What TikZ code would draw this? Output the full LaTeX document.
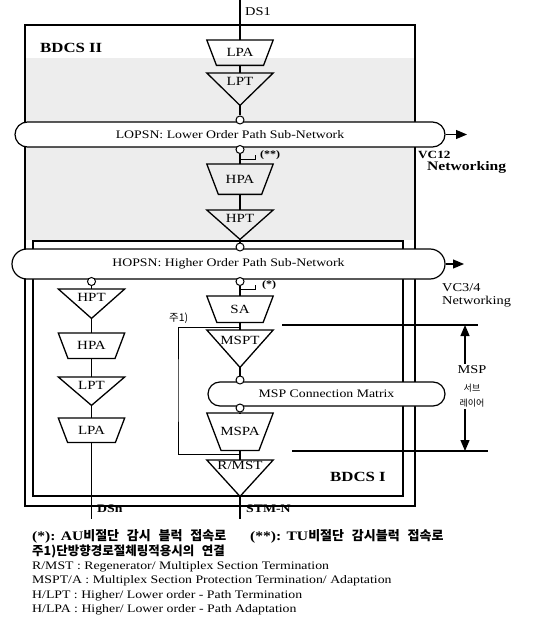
\documentclass[tikz,border=0pt]{standalone}
\usepackage{fontspec}
\setmainfont{Liberation Serif}
\newfontfamily\dgfont{Liberation Serif}[FakeStretch=1.2]
\newfontfamily\kofont{Noto Sans CJK KR}
\newcommand\fsz[1]{\fontsize{#1}{#1}\selectfont}
\newcommand\ksp{\hspace{0.6em}}
\usetikzlibrary{arrows.meta,calc}

\tikzset{
  blkline/.style={line width=1.3pt, line join=miter},
  blk/.style={inner sep=0pt, minimum width=66pt, anchor=north, font=\dgfont\fsz{12.5}},
  adapt/.style={blk, minimum height=#1,
    append after command={\pgfextra{\draw[blkline]
      (\tikzlastnode.north west) -- (\tikzlastnode.north east)
      -- ($(\tikzlastnode.south east)!0.38!90:(\tikzlastnode.north east)$)
      -- ($(\tikzlastnode.south west)!0.38!-90:(\tikzlastnode.north west)$) -- cycle;}}},
  adapt/.default=26pt,
  term/.style 2 args={blk, minimum height=#1, text height=8pt, text depth=#2,
    append after command={\pgfextra{\draw[blkline]
      (\tikzlastnode.north west) -- (\tikzlastnode.north east)
      -- (\tikzlastnode.south) -- cycle;}}},
  bus/.style={draw, line width=1.2pt, fill=white, inner sep=0pt, font=\dgfont\fsz{11.5}},
  cpt/.style={circle, draw, fill=white, line width=1pt, inner sep=0pt, minimum size=8pt},
  link/.style={line width=1.2pt},
  outarr/.style={link, -{Triangle[length=11pt,width=9pt]}},
  lbl/.style={inner sep=0pt, anchor=west, font=\dgfont\bfseries\fsz{11.5}},
  leg/.style={inner sep=0pt, anchor=base west, font=\dgfont\fsz{11.5}},
}

\begin{document}
\begin{tikzpicture}[x=1pt,y=-1pt]
\useasboundingbox (0,0) rectangle (540,628);
% BDCS II and BDCS I frames
\fill[black!7] (26,58) rectangle (414,240);
\draw[line width=1.2pt] (25,25) rectangle (415,506);
\draw[line width=2.6pt] (33,241) rectangle (403,496);
\node[lbl, font=\dgfont\bfseries\fsz{14}] (bdcsB) at (40,48) {BDCS II};
\node[lbl, font=\dgfont\bfseries\fsz{14}] (bdcsA) at (330,477) {BDCS I};

% sub-networks
\node[bus, minimum width=430pt, minimum height=25pt, rounded corners=12.5pt] (lopsn) at (230,134.5) {LOPSN: Lower Order Path Sub-Network};
\node[bus, minimum width=433pt, minimum height=30pt, rounded corners=15pt] (hopsn) at (228.5,264) {HOPSN: Higher Order Path Sub-Network};
\node[bus, minimum width=237pt, minimum height=24pt, rounded corners=12pt] (mspcm) at (326.5,394) {MSP Connection Matrix};

\node[cpt] (cA) at (240,120) {};
\node[cpt] (cB) at (240,149.5) {};
\node[cpt] (cC) at (240,247) {};
\node[cpt] (cD) at (91.5,281.5) {};
\node[cpt] (cE) at (240,281.5) {};
\node[cpt] (cF) at (240,380) {};
\node[cpt] (cG) at (240,408) {};

% upper column (BDCS II)
\coordinate (ds1) at (240,0);
\node[adapt=25pt] (lpaU) at (240,40) {LPA};
\node[term={32pt}{16pt}] (lptU) at (240,73) {LPT};
\node[adapt=30pt] (hpaU) at (240,164) {HPA};
\node[term={29pt}{13pt}] (hptU) at (240,210) {HPT};

% left column
\node[term={29pt}{13pt}] (hptL) at (91.5,289) {HPT};
\node[adapt=25pt] (hpaL) at (91.5,333) {HPA};
\node[term={28pt}{12pt}] (lptL) at (91.5,377) {LPT};
\node[adapt=24pt] (lpaL) at (91.5,418) {LPA};
\coordinate (dsn) at (91.5,519);

% right column
\node[adapt=26pt] (sa) at (240,296) {SA};
\node[term={37pt}{17pt}] (mspt) at (240,330) {MSPT};
\node[adapt=37pt] (mspa) at (240,413) {MSPA};
\node[term={36pt}{26pt}] (rmst) at (240,460) {R/MST};
\coordinate (stmn) at (240,519);

\draw[link] (ds1) -- (lpaU.north);
\draw[link] (lpaU.south) -- (lptU.north);
\draw[link] (lptU.south) -- (cA);
\draw[link] (cB) -- (hpaU.north);
\draw[link] (hpaU.south) -- (hptU.north);
\draw[link] (hptU.south) -- (cC);
\draw[link] (cD) -- (hptL.north);
\draw[link] (hptL.south) -- (hpaL.north);
\draw[link] (hpaL.south) -- (lptL.north);
\draw[link] (lptL.south) -- (lpaL.north);
\draw[link] (lpaL.south) -- (dsn);
\draw[link] (cE) -- (sa.north);
\draw[link] (sa.south) -- (mspt.north);
\draw[link] (mspt.south) -- (cF);
\draw[link] (cG) -- (mspa.north);
\draw[link] (mspa.south) -- (rmst.north);
\draw[link] (rmst.south) -- (stmn);

% monitoring taps
\coordinate (tpA) at (240,159);
\draw[semithick] (tpA) -| ++(15,-4);
\node[inner sep=0pt, anchor=west, font=\dgfont\bfseries\fsz{10}] (tpAl) at (260,155) {(**)};
\coordinate (tpB) at (240,289);
\draw[semithick] (tpB) -| ++(15,-4);
\node[inner sep=0pt, anchor=west, font=\dgfont\bfseries\fsz{10}] (tpBl) at (262,285) {(*)};

% unidirectional ring loop
\coordinate (lpA) at (240,327);
\coordinate (lpB) at (240,454);
\draw[line width=0.9pt] (lpA) -| (178,390) |- (lpB);
\node[inner sep=0pt, anchor=west, font=\kofont\fsz{10.5}] (note1) at (169,318) {주1)};

% outputs
\coordinate (vcA) at (467,134.5);
\coordinate (vcB) at (464,264);
\draw[outarr] (lopsn.east) -- (vcA);
\draw[outarr] (hopsn.east) -- (vcB);
\node[lbl, font=\dgfont\bfseries\fsz{11}] (vc12) at (418,155) {VC12};
\node[lbl, font=\dgfont\bfseries\fsz{13}] (nwA) at (427,167) {Networking};
\node[lbl, font=\dgfont\fsz{12}] (vc34) at (442,288) {VC3/4};
\node[lbl, font=\dgfont\fsz{12}] (nwB) at (442,302) {Networking};
\node[lbl, font=\dgfont\fsz{12}] (ds1l) at (245,12) {DS1};
\node[lbl] (dsnl) at (97,509) {DSn};
\node[lbl] (stml) at (246,509) {STM-N};

% MSP sub-layer
\coordinate (mspTa) at (282,325);
\coordinate (mspTb) at (478,325);
\coordinate (mspBa) at (292,451);
\coordinate (mspBb) at (488,451);
\draw[link] (mspTa) -- (mspTb);
\draw[link] (mspBa) -- (mspBb);
\node[inner sep=2pt, font=\dgfont\fsz{12}] (mspA) at (472,370) {MSP};
\node[inner sep=1pt, font=\kofont\fsz{9}] (mspB) at (472,388) {서브};
\node[inner sep=2pt, font=\kofont\fsz{9}] (mspC) at (472,403) {레이어};
\coordinate (mspUp) at (465,325);
\coordinate (mspDn) at (465,451);
\draw[outarr] (mspA.north -| mspUp) -- (mspUp);
\draw[outarr] (mspC.south -| mspDn) -- (mspDn);

% legend
\node[leg, font=\kofont\bfseries\fsz{13}] (lgA) at (32,540) {{\dgfont(*): AU}비절단\ksp 감시\ksp 블럭\ksp 접속로};
\node[leg, font=\kofont\bfseries\fsz{13}] (lgB) at (250,540) {{\dgfont(**): TU}비절단\ksp 감시블럭\ksp 접속로};
\node[leg, font=\kofont\bfseries\fsz{12.5}] (lgC) at (32,555) {주1)단방향경로절체링적용시의\ksp 연결};
\node[leg] (lgD) at (32,569) {R/MST : Regenerator/ Multiplex Section Termination};
\node[leg] (lgE) at (32,583) {MSPT/A : Multiplex Section Protection Termination/ Adaptation};
\node[leg] (lgF) at (32,598) {H/LPT : Higher/ Lower order - Path Termination};
\node[leg] (lgG) at (32,612) {H/LPA : Higher/ Lower order - Path Adaptation};
\end{tikzpicture}
\end{document}
